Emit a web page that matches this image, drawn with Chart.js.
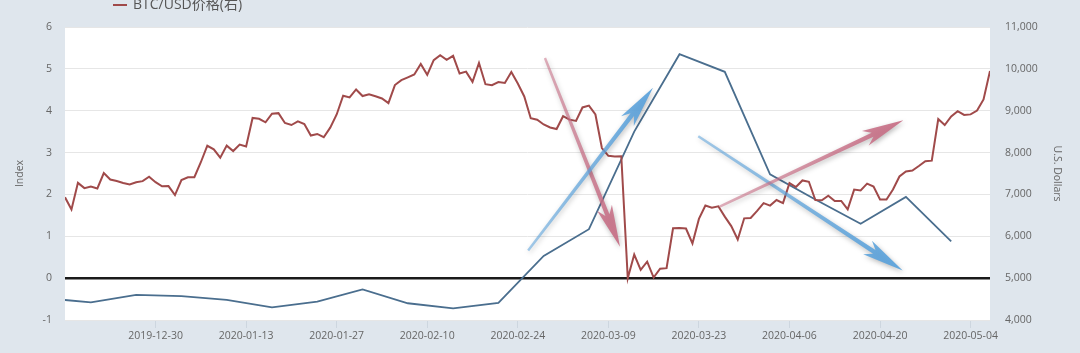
<!DOCTYPE html>
<html>
<head>
<meta charset="utf-8">
<script src="https://cdn.jsdelivr.net/npm/chart.js@4.4.1/dist/chart.umd.min.js"></script>
<style>
  html, body { margin: 0; padding: 0; background: #dfe6ed; }
  #wrap { position: relative; width: 1080px; height: 353px; overflow: hidden; }
  #legend { position: absolute; left: 113px; top: -7px; line-height: 18px; font: 14px 'Open Sans', 'Noto Sans CJK SC', sans-serif; color: #555; white-space: nowrap; }
  #legend i { display: inline-block; width: 14px; height: 2px; background: #a04a4a; vertical-align: middle; margin-right: 6px; }
</style>
</head>
<body>
<div id="wrap">
  <canvas id="chart" width="1080" height="353"></canvas>
  <div id="legend"><i></i>BTC/USD价格(右)</div>
</div>
<script>
// BTC/USD 日收盘价, 从 2019-12-16 起每天一个
const btcStart = '2019-12-16';
const btcValues = [
  6932, 6640, 7276, 7150, 7188, 7143, 7511, 7355, 7322, 7275, 7238, 7290, 7317, 7422, 7292, 7193,
  7200, 6985, 7345, 7410, 7411, 7769, 8163, 8079, 7879, 8166, 8037, 8192, 8144, 8827, 8807, 8723,
  8929, 8942, 8706, 8658, 8745, 8681, 8406, 8445, 8367, 8596, 8910, 9358, 9316, 9508, 9350,
  9392, 9344, 9293, 9180, 9613, 9729, 9795, 9865, 10116, 9856, 10208, 10326, 10214, 10312, 9889,
  9934, 9690, 10141, 9633, 9608, 9686, 9663, 9924, 9650, 9341, 8820, 8784, 8672, 8599,
  8562, 8869, 8787, 8755, 9078, 9122, 8909, 8108, 7923, 7909, 7911, 4995, 5563, 5200, 5392, 5014,
  5225, 5238, 6191, 6198, 6185, 5830, 6416, 6734, 6681, 6716, 6469, 6243, 5922, 6429, 6439,
  6606, 6793, 6733, 6867, 6791, 7271, 7176, 7334, 7302, 6865, 6859, 6971, 6845, 6843, 6642,
  7116, 7096, 7257, 7189, 6881, 6880, 7117, 7429, 7550, 7569, 7679, 7795, 7807, 8801, 8658,
  8864, 8989, 8898, 8912, 9003, 9268, 9951
];

// Index (左轴), 每周一个点
const indexDates = [
  '2019-12-13', '2019-12-20', '2019-12-27', '2020-01-03', '2020-01-10', '2020-01-17', '2020-01-24',
  '2020-01-31', '2020-02-07', '2020-02-14', '2020-02-21', '2020-02-28', '2020-03-06', '2020-03-13',
  '2020-03-20', '2020-03-27', '2020-04-03', '2020-04-10', '2020-04-17', '2020-04-24', '2020-05-01'
];
const indexValues = [
  -0.48, -0.58, -0.40, -0.43, -0.52, -0.70, -0.56,
  -0.27, -0.60, -0.72, -0.59, 0.53, 1.17, 3.5,
  5.35, 4.93, 2.48, 1.88, 1.30, 1.94, 0.88
];

const tickDates = [
  '2019-12-30', '2020-01-13', '2020-01-27', '2020-02-10', '2020-02-24',
  '2020-03-09', '2020-03-23', '2020-04-06', '2020-04-20', '2020-05-04'
];

// 手画的箭头 (日期序号, 左轴数值)
const arrows = [
  { from: [74.2, 5.26], to: [85.8, 0.75], rgb: [200, 112, 135] },
  { from: [71.6, 0.66], to: [90.9, 4.55], rgb: [92, 163, 220] },
  { from: [97.9, 3.39], to: [129.5, 0.18], rgb: [92, 163, 220] },
  { from: [101.2, 1.71], to: [129.6, 3.77], rgb: [200, 112, 135] }
];

const DAY = 86400000;
const t0 = Date.parse(btcStart);
const dayOf = s => Math.round((Date.parse(s) - t0) / DAY);
const dateOf = d => new Date(t0 + d * DAY).toISOString().slice(0, 10);

const btcPoints = btcValues.map((v, i) => ({ x: i, y: v }));
const indexPoints = indexValues.map((v, i) => ({ x: dayOf(indexDates[i]), y: v }));

Chart.defaults.font.family = "'Open Sans', 'Noto Sans CJK SC', sans-serif";
Chart.defaults.font.size = 10.5;
Chart.defaults.color = '#666';

const fondoBlanco = {
  id: 'fondoBlanco',
  beforeDraw(chart) {
    const { ctx, chartArea: a } = chart;
    ctx.save();
    ctx.fillStyle = '#ffffff';
    ctx.fillRect(a.left, a.top, a.right - a.left, a.bottom - a.top);
    ctx.restore();
  }
};

function dibujarFlecha(ctx, x0, y0, x1, y1, rgb) {
  const ang = Math.atan2(y1 - y0, x1 - x0);
  const len = Math.hypot(x1 - x0, y1 - y0);
  const [r, g, b] = rgb;
  ctx.save();
  ctx.translate(x0, y0);
  ctx.rotate(ang);
  const grad = ctx.createLinearGradient(0, 0, len, 0);
  grad.addColorStop(0, `rgba(${r},${g},${b},0.55)`);
  grad.addColorStop(1, `rgba(${r},${g},${b},0.95)`);
  ctx.fillStyle = grad;
  ctx.shadowColor = 'rgba(0,0,0,0.3)';
  ctx.shadowBlur = 5;
  ctx.shadowOffsetX = 1;
  ctx.shadowOffsetY = 2;
  const head = 42;
  ctx.beginPath();
  ctx.moveTo(0, -1.2);
  ctx.lineTo(len - head + 8, -2.2);
  ctx.lineTo(len - head, -8);
  ctx.lineTo(len, 0);
  ctx.lineTo(len - head, 8);
  ctx.lineTo(len - head + 8, 2.2);
  ctx.lineTo(0, 1.2);
  ctx.closePath();
  ctx.fill();
  ctx.restore();
}

const flechas = {
  id: 'flechas',
  afterDatasetsDraw(chart) {
    const { ctx, scales } = chart;
    arrows.forEach(a => {
      dibujarFlecha(ctx,
        scales.x.getPixelForValue(a.from[0]), scales.y.getPixelForValue(a.from[1]),
        scales.x.getPixelForValue(a.to[0]), scales.y.getPixelForValue(a.to[1]),
        a.rgb);
    });
  }
};

new Chart(document.getElementById('chart'), {
  type: 'line',
  data: {
    datasets: [
      {
        label: 'BTC/USD价格(右)',
        data: btcPoints,
        yAxisID: 'y1',
        borderColor: '#a04a4a',
        borderWidth: 2,
        pointRadius: 0,
        tension: 0,
        order: 1
      },
      {
        label: 'Index',
        data: indexPoints,
        yAxisID: 'y',
        borderColor: '#4a6e8e',
        borderWidth: 1.8,
        pointRadius: 0,
        tension: 0,
        order: 2
      }
    ]
  },
  options: {
    responsive: false,
    animation: false,
    devicePixelRatio: 1,
    layout: { padding: { top: 27, left: 0, right: 0, bottom: 0 } },
    plugins: { legend: { display: false }, tooltip: { enabled: false } },
    scales: {
      x: {
        type: 'linear',
        min: 0,
        max: btcValues.length - 1,
        afterBuildTicks: s => { s.ticks = tickDates.map(d => ({ value: dayOf(d) })); },
        afterFit: s => { s.height = 33; },
        ticks: { autoSkip: false, maxRotation: 0, padding: 2, callback: v => dateOf(v) },
        grid: { drawOnChartArea: false, tickLength: 8, color: '#cdd6df' },
        border: { display: false }
      },
      y: {
        position: 'left',
        min: -1,
        max: 6,
        afterFit: s => { s.width = 65; },
        ticks: { stepSize: 1, padding: 13 },
        grid: {
          drawTicks: false,
          color: c => c.tick.value === 0 ? '#1a1a1a' : '#e6e6e6',
          lineWidth: c => c.tick.value === 0 ? 2.5 : 1
        },
        border: { display: false },
        title: { display: true, text: 'Index', font: { size: 10.5 }, padding: { top: 14, bottom: 0 } }
      },
      y1: {
        position: 'right',
        min: 4000,
        max: 11000,
        afterFit: s => { s.width = 90; },
        ticks: { stepSize: 1000, padding: 15, callback: v => v.toLocaleString('en-US') },
        grid: { display: false, drawTicks: false },
        border: { display: false },
        title: { display: true, text: 'U.S. Dollars', font: { size: 10.5 }, padding: { top: 17, bottom: 0 } }
      }
    }
  },
  plugins: [fondoBlanco, flechas]
});
</script>
</body>
</html>
